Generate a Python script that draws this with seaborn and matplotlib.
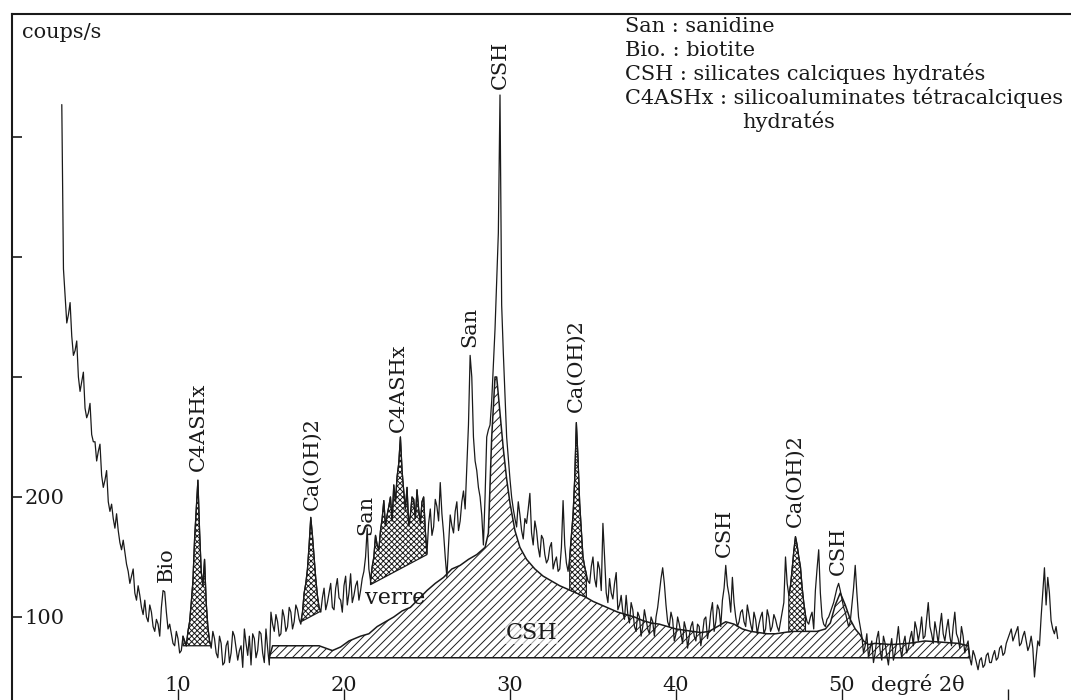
import numpy as np
import pandas as pd
import matplotlib
matplotlib.use("Agg")
import matplotlib.pyplot as plt
import seaborn as sns

sns.set_theme(style="white")
plt.rcParams['font.family'] = ['DejaVu Serif', 'DejaVu Sans']
plt.rcParams['hatch.linewidth'] = 0.7
plt.rcParams['hatch.color'] = '#1a1a1a'

# ---------------- data ----------------
scan_start, scan_stop, scan_step = 3.0, 63.0, 0.1   # degrees 2-theta

counts = [
    527, 390, 368, 345, 352, 362, 334, 318, 322, 330, 300, 288, 296, 304, 274, 266, 270, 278, 252, 246,   # 3.0-4.9
    246, 230, 238, 244, 218, 208, 214, 222, 196, 188, 194, 182, 174, 186, 172, 162, 156, 164, 154, 144,   # 5.0-6.9
    138, 128, 134, 140, 120, 114, 126, 118, 108, 102, 114, 100, 96, 110, 104, 92, 88, 98, 94, 84,         # 7.0-8.9
    108, 122, 121, 104, 90, 94, 86, 78, 76, 88, 82, 70, 72, 84, 80, 76, 88, 96, 112, 130,                 # 9.0-10.9
    165, 190, 214, 172, 138, 126, 148, 112, 92, 80, 74, 88, 82, 70, 66, 84, 78, 60, 62, 76,               # 11.0-12.9
    80, 62, 70, 88, 84, 74, 64, 72, 76, 58, 90, 78, 68, 84, 60, 86, 82, 66, 72, 88,                       # 13.0-14.9
    86, 70, 62, 90, 74, 60, 104, 94, 88, 102, 96, 84, 86, 106, 100, 88, 92, 108, 104, 90,                 # 15.0-16.9
    96, 110, 106, 98, 94, 104, 120, 128, 140, 160, 183, 168, 150, 132, 118, 108, 104, 116, 124, 106,      # 17.0-18.9
    112, 120, 128, 108, 106, 124, 132, 116, 114, 104, 126, 134, 110, 120, 136, 112, 118, 126, 130, 114,   # 19.0-20.9
    122, 132, 138, 150, 174, 140, 130, 142, 150, 168, 160, 156, 172, 182, 197, 176, 185, 192, 200, 180,   # 21.0-22.9
    210, 196, 217, 228, 250, 222, 205, 190, 208, 176, 185, 200, 198, 182, 206, 190, 178, 196, 200, 172,   # 23.0-24.9
    153, 178, 190, 168, 175, 198, 192, 180, 212, 186, 170, 150, 133, 160, 185, 176, 170, 188, 196, 172,   # 25.0-26.9
    180, 196, 205, 190, 225, 260, 318, 300, 250, 230, 222, 208, 200, 185, 160, 200, 250, 256, 260, 280,   # 27.0-28.9
    310, 340, 380, 420, 535, 360, 320, 285, 250, 232, 215, 200, 190, 182, 175, 196, 185, 172, 165, 182,   # 29.0-30.9
    178, 190, 203, 170, 160, 180, 172, 158, 150, 168, 165, 152, 145, 148, 158, 162, 140, 146, 150, 138,   # 31.0-32.9
    140, 158, 197, 160, 145, 138, 150, 168, 185, 215, 262, 232, 195, 172, 150, 142, 136, 130, 128, 142,   # 33.0-34.9
    150, 132, 125, 146, 140, 122, 178, 150, 120, 112, 132, 120, 115, 128, 137, 106, 110, 118, 104, 98,    # 35.0-36.9
    118, 102, 95, 112, 106, 92, 88, 104, 100, 84, 92, 106, 98, 90, 86, 100, 96, 84, 100, 108,             # 37.0-38.9
    120, 132, 141, 128, 110, 96, 92, 104, 98, 80, 86, 100, 94, 86, 78, 96, 90, 74, 84, 92,                # 39.0-40.9
    96, 84, 80, 94, 92, 76, 86, 98, 100, 82, 90, 104, 112, 88, 96, 110, 106, 92, 114, 124,                # 41.0-42.9
    143, 126, 118, 104, 133, 112, 100, 92, 96, 104, 106, 96, 92, 110, 102, 94, 88, 104, 98, 86,           # 43.0-44.9
    94, 100, 104, 86, 90, 106, 100, 88, 92, 102, 98, 92, 88, 96, 104, 112, 150, 128, 118, 126,            # 45.0-46.9
    140, 155, 167, 160, 150, 142, 125, 112, 102, 96, 94, 100, 104, 90, 122, 140, 156, 120, 100, 94,       # 47.0-48.9
    92, 98, 100, 104, 108, 112, 118, 124, 128, 122, 115, 108, 104, 98, 92, 96, 110, 124, 143, 120,        # 49.0-50.9
    100, 92, 84, 70, 76, 86, 66, 74, 80, 62, 70, 82, 88, 72, 64, 84, 78, 68, 60, 74,                      # 51.0-52.9
    82, 64, 70, 80, 92, 76, 66, 78, 84, 70, 74, 82, 88, 76, 96, 90, 80, 88, 100, 82,                      # 53.0-54.9
    84, 98, 112, 92, 86, 78, 96, 88, 78, 92, 103, 86, 80, 90, 98, 84, 76, 92, 104, 86,                    # 55.0-56.9
    82, 74, 92, 84, 70, 76, 80, 66, 60, 72, 68, 62, 56, 64, 66, 58, 60, 68, 70, 62,                       # 57.0-58.9
    62, 68, 72, 64, 66, 74, 76, 68, 70, 78, 82, 86, 90, 80, 84, 88, 92, 76, 78, 84,                       # 59.0-60.9
    88, 80, 72, 76, 84, 74, 50, 66, 80, 76, 100, 120, 141, 110, 133, 120, 97, 90, 86, 92,                 # 61.0-62.9
    82,                                                                                                   # 63.0
]

# broad CSH hump (hatched)
csh_theta = [15.5, 15.7, 18.5, 19.3, 19.8, 20.3, 21.0, 21.5, 22.0, 22.5,
             23.0, 23.5, 24.0, 24.5, 25.0, 25.5, 26.0, 26.5, 27.0, 27.5,
             28.0, 28.5, 28.7, 28.9, 29.1, 29.2, 29.4, 29.6, 29.8, 30.0,
             30.3, 30.6, 31.0, 31.5, 32.0, 32.5, 33.0, 33.5, 34.0, 34.5,
             35.0, 35.5, 36.0, 36.5, 37.0, 37.5, 38.0, 38.5, 39.0, 39.5,
             40.0, 40.5, 41.0, 41.5, 42.0, 42.5, 43.0, 43.5, 44.0, 44.5,
             45.0, 45.5, 46.0, 46.5, 47.0, 47.5, 48.0, 48.5, 49.0, 49.3,
             49.6, 49.9, 50.2, 50.5, 50.8, 51.1, 51.3, 51.6, 52.0, 53.0,
             54.0, 55.0, 56.0, 57.0, 57.6, 57.7]
csh_top = [66, 76, 76, 72, 75, 80, 84, 86, 92, 96,
           100, 105, 108, 115, 122, 128, 133, 140, 143, 148,
           152, 158, 170, 250, 300, 300, 270, 240, 215, 195,
           172, 158, 148, 140, 134, 130, 126, 123, 120, 117,
           113, 110, 107, 104, 102, 100, 97, 95, 94, 92,
           90, 89, 88, 87, 88, 92, 96, 94, 90, 88,
           87, 86, 86, 87, 88, 88, 88, 88, 90, 95,
           110, 120, 110, 98, 90, 85, 80, 77, 78, 77,
           78, 80, 79, 78, 76, 66]
csh_base = 66

# straight lower limit of the amorphous "verre" band
verre_theta = [17.4, 25.0]
verre_counts = [96, 152]

# crystalline peak areas (2-theta ranges)
c4ashx_11_range = (10.3, 12.0)
c4ashx_11_base = 76
caoh_18_range = (17.4, 18.6)
c4ashx_23_range = (21.6, 25.0)
caoh_34_range = (33.6, 34.6)
caoh_47_range = (46.8, 47.8)

# peak labels: text, 2-theta, counts at label foot
peak_labels = ["Bio", "C4ASHx", "Ca(OH)2", "San", "C4ASHx", "San", "CSH",
               "Ca(OH)2", "CSH", "Ca(OH)2", "CSH"]
peak_theta = [9.3, 11.2, 18.1, 21.3, 23.3, 27.6, 29.4, 34.0, 42.9, 47.2, 49.8]
peak_counts = [129, 222, 189, 168, 254, 325, 540, 271, 150, 175, 135]

legend_lines = ["San : sanidine", "Bio. : biotite",
                "CSH : silicates calciques hydratés",
                "C4ASHx : silicoaluminates tétracalciques"]

x_ticks = [10, 20, 30, 40, 50, 60]
x_ticklabels = ["10", "20", "30", "40", "50", ""]
y_ticks = [100, 200, 300, 400, 500]
y_ticklabels = ["100", "200", "", "", ""]

# ---------------- build ----------------
theta = np.round(np.arange(scan_start, scan_stop + scan_step / 2, scan_step), 1)
counts = np.array(counts, dtype=float)
assert len(theta) == len(counts)
assert len(csh_theta) == len(csh_top)
df = pd.DataFrame({"theta": theta, "counts": counts})

W, H = 1071, 700
fig = plt.figure(figsize=(W / 100, H / 100), dpi=100)
ax = fig.add_axes([12 / W, 0.0, 1 - 12 / W, 1 - 14 / H])
ax.set_facecolor("white")

ink = "#1a1a1a"

# CSH hump
ax.fill_between(csh_theta, csh_base, csh_top, facecolor="white", edgecolor=ink,
                hatch="////", linewidth=1.1, zorder=2)

csh_top_on_grid = np.interp(theta, csh_theta, csh_top)
verre_on_grid = np.interp(theta, verre_theta, verre_counts)


def peak_area(rng, base, hatch):
    m = (theta >= rng[0] - 1e-9) & (theta <= rng[1] + 1e-9)
    b = base[m] if np.ndim(base) else np.full(m.sum(), base)
    ax.fill_between(theta[m], b, np.maximum(counts[m], b), facecolor="white",
                    edgecolor=ink, hatch=hatch, linewidth=0.9, zorder=3)


peak_area(c4ashx_11_range, c4ashx_11_base, "xxxxxx")
peak_area(caoh_18_range, verre_on_grid, "xxxxxx")
peak_area(c4ashx_23_range, verre_on_grid, "xxxxxx")
peak_area(caoh_34_range, csh_top_on_grid, "xxxxxx")
peak_area(caoh_47_range, csh_top_on_grid, "xxxxxx")

sns.lineplot(data=df, x="theta", y="counts", ax=ax, color=ink, linewidth=0.9,
             zorder=4, sort=False)

for s, t, c in zip(peak_labels, peak_theta, peak_counts):
    ax.text(t, c, s, rotation=90, ha="center", va="bottom", fontsize=15,
            color=ink, zorder=5)

ax.text(23.1, 116, "verre", ha="center", va="center", fontsize=16, color=ink,
        zorder=5)
ax.text(31.3, 87, "CSH", ha="center", va="center", fontsize=16, color=ink,
        zorder=5, bbox=dict(facecolor="white", edgecolor="none", pad=0.5, alpha=0.6))

ax.set_xlim(0, 63.8)
ax.set_ylim(30.8, 602.5)
ax.set_xticks(x_ticks)
ax.set_xticklabels(x_ticklabels)
ax.set_yticks(y_ticks)
ax.set_yticklabels(y_ticklabels)
ax.tick_params(axis="x", direction="in", length=8, width=1, pad=-17,
               labelsize=15, colors=ink, bottom=True)
ax.tick_params(axis="y", direction="in", length=7, width=1.2, pad=-38,
               labelsize=15, colors=ink, left=True)
ax.set_xlabel("degré 2θ", fontsize=15, color=ink)
ax.xaxis.set_label_coords(0.855, 0.038)
ax.set_ylabel("")

for side in ["right", "bottom"]:
    ax.spines[side].set_visible(False)
for side in ["top", "left"]:
    ax.spines[side].set_visible(True)
    ax.spines[side].set_color(ink)
    ax.spines[side].set_linewidth(1.5)
ax.grid(False)

fig.text(22 / W, 1 - 33 / H, "coups/s", fontsize=15, va="center", ha="left",
         color=ink)
legend_y = [26, 50, 74, 98]
for s, yy in zip(legend_lines, legend_y):
    fig.text(625 / W, 1 - yy / H, s, fontsize=15, va="center", ha="left", color=ink)
fig.text(742 / W, 1 - 122 / H, "hydratés", fontsize=15, va="center", ha="left",
         color=ink)

fig.savefig("out.png", dpi=100, facecolor="white")
